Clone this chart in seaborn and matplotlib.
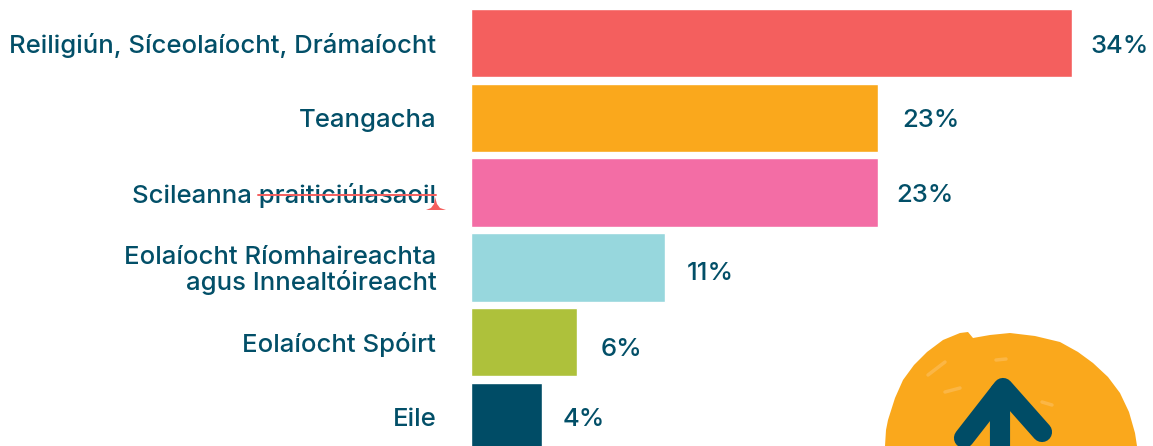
import matplotlib
matplotlib.use("Agg")
import matplotlib.pyplot as plt
import pandas as pd
import seaborn as sns
from matplotlib.lines import Line2D
from matplotlib.patches import Polygon
from matplotlib.transforms import Affine2D

categories = ["Reiligiún, Síceolaíocht, Drámaíocht", "Teangacha", "Scileanna praiticiúlasaoil",
              "Eolaíocht Ríomhaireachta\nagus Innealtóireacht", "Eolaíocht Spóirt", "Eile"]
values = [34, 23, 23, 11, 6, 4]
colors = ["#F45F5E", "#FAA81C", "#F36DA5", "#97D7DD", "#AEC13B", "#004C66"]
label_gaps_px = [18, 25, 19, 21, 24, 21]
label_y_shift_px = [1, 0, 0, 4, 5, 0]
TEXT = "#024F68"
W, H = 1153, 446

sns.set_theme(style="white")
plt.rcParams["font.family"] = ["Inter", "DejaVu Sans"]
fig = plt.figure(figsize=(W / 100, H / 100), dpi=100, facecolor="white")
LEFT = 471.0
ax = fig.add_axes([LEFT / W, 0, (W - LEFT) / W, 1])
df = pd.DataFrame({"cat": categories, "val": values})
sns.barplot(data=df, x="val", y="cat", hue="cat", palette=colors, legend=False,
            width=0.915, saturation=1, ax=ax, orient="h")
ax.set_xlim(0, (W - LEFT) / 17.68)
ax.set_ylim(5.388, -0.575)
ax.set_xlabel("")
ax.set_ylabel("")
ax.set_xticks([])
sns.despine(ax=ax, left=True, bottom=True, top=True, right=True)
ax.tick_params(axis="y", length=0, pad=25.0)
for t in ax.get_yticklabels():
    t.set_color(TEXT)
    t.set_fontsize(18.5)
    t.set_fontweight("medium")
    t.set_linespacing(1.08)
ax.patch.set_alpha(0)

for i, v in enumerate(values):
    ax.annotate(f"{v}%", (v, i), xytext=(label_gaps_px[i] * 0.72, -label_y_shift_px[i] * 0.72),
                textcoords="offset points", ha="left", va="center_baseline",
                color=TEXT, fontsize=18.5, fontweight="medium", clip_on=False)

# hand-drawn decorations, in reference pixels
px = Affine2D().scale(1, -1).translate(0, H)
fig.add_artist(Line2D([258, 436], [195, 195], color="#F45F5E", lw=1.4, transform=px))
fig.add_artist(Polygon([(426, 210), (431, 208), (434, 204), (435, 197), (437, 204), (440, 208), (446, 210)],
                       closed=True, fc="#F45F5E", ec="none", transform=px))
blob = [(885, 446), (886, 430), (888, 420), (895, 398), (903, 380), (914, 365), (927, 352), (943, 340),
        (960, 333), (968, 332), (973, 338), (990, 335), (1010, 333), (1035, 336), (1060, 342),
        (1078, 352), (1093, 363), (1108, 377), (1120, 393), (1129, 412), (1135, 433), (1137, 446)]
fig.add_artist(Polygon(blob, closed=True, fc="#FAA81C", ec="none", transform=px))
specks = [(996, 360, 1006, 359), (945, 392, 960, 388), (1042, 402, 1052, 405), (928, 375, 945, 362)]
for x0, y0, x1, y1 in specks:
    fig.add_artist(Line2D([x0, x1], [y0, y1], color="#FCC061", lw=2.5, alpha=0.6, transform=px))
for seg in ([(964, 438), (1003, 388), (1042, 432)], [(1000, 392), (1000, 452)]):
    xs, ys = zip(*seg)
    fig.add_artist(Line2D(xs, ys, color="#004C66", lw=14.5, solid_capstyle="round",
                          solid_joinstyle="round", transform=px))
fig.savefig("out.png", dpi=100, facecolor="white")
